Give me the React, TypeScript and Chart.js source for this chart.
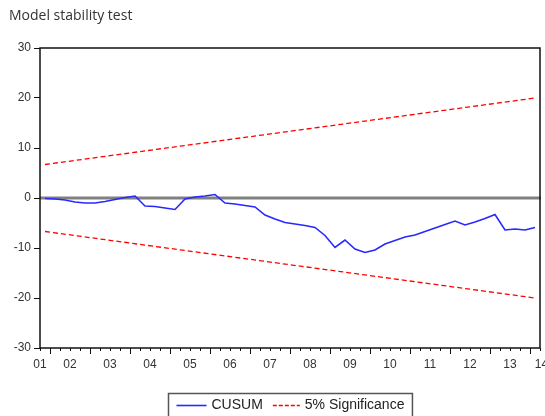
import React, { useEffect, useRef } from 'react';
import { Chart, registerables } from 'chart.js';

Chart.register(...registerables);

const TITLE = 'Model stability test';
const START_YEAR = 2001;
const START_QUARTER = 4;
const YEAR_LABELS = ['01', '02', '03', '04', '05', '06', '07', '08', '09', '10', '11', '12', '13', '14'];
const SERIES_LABELS = ['CUSUM', '5% Significance'];
const Y_MIN = -30;
const Y_MAX = 30;
const Y_STEP = 10;

// CUSUM recursive residual statistic, one value per quarter from 2001Q4
const CUSUM = [
  -0.1, -0.2, -0.4, -0.8, -1.0, -1.0, -0.7, -0.3, 0.1, 0.4,
  -1.6, -1.7, -2.0, -2.3, -0.2, 0.2, 0.4, 0.7, -1.0, -1.2,
  -1.5, -1.8, -3.4, -4.2, -4.9, -5.2, -5.5, -5.9, -7.5, -9.9,
  -8.4, -10.2, -10.9, -10.4, -9.2, -8.5, -7.8, -7.4, -6.7, -6.0,
  -5.3, -4.6, -5.4, -4.8, -4.1, -3.3, -6.4, -6.2, -6.4, -5.9,
];
// 5% significance bounds at first and last observation
const UPPER_5 = [6.7, 20.0];
const LOWER_5 = [-6.7, -20.0];

const FONT = '"Liberation Sans", Arial, sans-serif';

const decor = {
  id: 'decor',
  beforeDatasetsDraw(chart: any) {
    const { ctx, chartArea } = chart;
    const y = chart.scales.y;
    const y0 = y.getPixelForValue(0);
    ctx.save();
    ctx.strokeStyle = '#808080';
    ctx.lineWidth = 3;
    ctx.beginPath();
    ctx.moveTo(chartArea.left, y0);
    ctx.lineTo(chartArea.right + 1, y0);
    ctx.stroke();
    ctx.restore();
  },
  afterDraw(chart: any) {
    const { ctx, chartArea } = chart;
    const { left, right, top, bottom } = chartArea;
    const x = chart.scales.x;
    ctx.save();
    // frame
    ctx.strokeStyle = '#111';
    ctx.lineWidth = 1.5;
    ctx.strokeRect(left, top, right - left, bottom - top);

    // x tick marks at quarter boundaries
    const n = CUSUM.length;
    ctx.lineWidth = 1;
    for (let j = 0; j <= n; j++) {
      const px = Math.round(x.getPixelForValue(j - 0.5)) + 0.5;
      const major = (START_QUARTER - 1 + j) % 4 === 0;
      ctx.beginPath();
      ctx.moveTo(px, bottom);
      ctx.lineTo(px, bottom + (major ? 6 : 3));
      ctx.stroke();
    }

    // year labels centred on the year span
    ctx.fillStyle = '#333';
    ctx.font = '12px ' + FONT;
    ctx.textAlign = 'center';
    ctx.textBaseline = 'middle';
    YEAR_LABELS.forEach((lab, yi) => {
      const s = yi * 4 - (START_QUARTER - 1);
      let c = s + 1.5;
      c = Math.max(x.min, Math.min(x.max + 0.15, c));
      ctx.fillText(lab, x.getPixelForValue(c), bottom + 17);
    });

    // title
    ctx.font = '14px "Open Sans", Lato, sans-serif';
    ctx.textAlign = 'left';
    ctx.textBaseline = 'alphabetic';
    ctx.fillStyle = '#333';
    ctx.fillText(TITLE, 9, 19.5);

    // legend
    const ds = chart.data.datasets;
    ctx.font = '14px ' + FONT;
    const w1 = ctx.measureText(SERIES_LABELS[0]).width;
    const w2 = ctx.measureText(SERIES_LABELS[1]).width;
    const l1 = 30, l2 = 27;
    const total = 8 + l1 + 5 + w1 + 10 + l2 + 5 + w2 + 8;
    const bx = Math.round((left + right) / 2 - total / 2) + 0.5;
    const by = bottom + 45.5;
    ctx.strokeStyle = '#555';
    ctx.lineWidth = 1.5;
    ctx.strokeRect(bx, by, total, 30);
    const ly = by + 12;
    let cx = bx + 8;
    ctx.strokeStyle = ds[0].borderColor;
    ctx.lineWidth = 1.6;
    ctx.setLineDash([]);
    ctx.beginPath();
    ctx.moveTo(cx, ly);
    ctx.lineTo(cx + l1, ly);
    ctx.stroke();
    cx += l1 + 5;
    ctx.fillStyle = '#222';
    ctx.textBaseline = 'middle';
    ctx.fillText(SERIES_LABELS[0], cx, ly);
    cx += w1 + 10;
    ctx.strokeStyle = ds[1].borderColor;
    ctx.lineWidth = 1.3;
    ctx.setLineDash([4, 2]);
    ctx.beginPath();
    ctx.moveTo(cx, ly);
    ctx.lineTo(cx + l2, ly);
    ctx.stroke();
    ctx.setLineDash([]);
    cx += l2 + 5;
    ctx.fillText(SERIES_LABELS[1], cx, ly);
    ctx.restore();
  },
};

export default function App() {
  const ref = useRef<HTMLCanvasElement | null>(null);
  useEffect(() => {
    if (!ref.current) return;
    const last = CUSUM.length - 1;
    const chart = new Chart(ref.current, {
      type: 'line',
      data: {
        datasets: [
          {
            label: SERIES_LABELS[0],
            data: CUSUM.map((v, i) => ({ x: i, y: v })),
            borderColor: 'rgb(40,40,255)',
            borderWidth: 1.6,
            pointRadius: 0,
            tension: 0,
          },
          {
            label: SERIES_LABELS[1],
            data: [
              { x: 0, y: UPPER_5[0] },
              { x: last, y: UPPER_5[1] },
            ],
            borderColor: 'rgb(255,0,0)',
            borderWidth: 1.3,
            borderDash: [5, 3],
            pointRadius: 0,
          },
          {
            label: SERIES_LABELS[1] + ' lower',
            data: [
              { x: 0, y: LOWER_5[0] },
              { x: last, y: LOWER_5[1] },
            ],
            borderColor: 'rgb(255,0,0)',
            borderWidth: 1.3,
            borderDash: [5, 3],
            pointRadius: 0,
          },
        ],
      },
      options: {
        animation: false,
        responsive: false,
        layout: { padding: { top: 48, right: 5, left: 0, bottom: 0 } },
        plugins: {
          legend: { display: false },
          title: { display: false },
          tooltip: { enabled: false },
        },
        scales: {
          x: {
            type: 'linear',
            min: -0.5,
            max: CUSUM.length - 0.5,
            grid: { display: false },
            border: { display: false },
            ticks: { display: false },
            afterFit: (s: any) => {
              s.height = 68;
            },
          },
          y: {
            min: Y_MIN,
            max: Y_MAX,
            ticks: {
              stepSize: Y_STEP,
              color: '#333',
              font: { family: FONT, size: 12 },
              padding: 3,
            },
            grid: {
              drawOnChartArea: false,
              drawTicks: true,
              tickLength: 6,
              color: '#111',
            },
            border: { display: false },
            afterFit: (s: any) => {
              s.width = 40;
            },
          },
        },
      },
      plugins: [decor],
    } as any);
    return () => chart.destroy();
  }, []);
  return (
    <div style={{ position: 'fixed', left: 0, top: 0, width: 545, height: 416, background: '#fff' }}>
      <canvas ref={ref} width={545} height={416} style={{ display: 'block' }} />
    </div>
  );
}
